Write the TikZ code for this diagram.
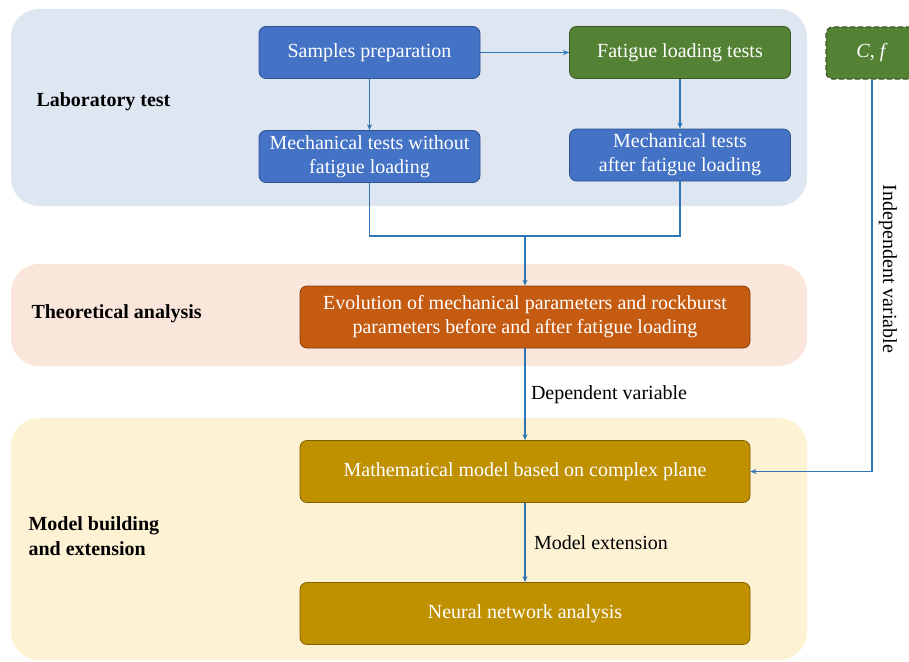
\documentclass[tikz,border=0pt]{standalone}
\usepackage{fontspec}
\setmainfont{Liberation Serif}
\usetikzlibrary{positioning,arrows.meta}
\definecolor{labbg}{HTML}{DEE6F1}
\definecolor{theobg}{HTML}{FBE6DC}
\definecolor{modbg}{HTML}{FEF2D5}
\definecolor{bluebox}{HTML}{4472C4}
\definecolor{blueline}{HTML}{2F528F}
\definecolor{greenbox}{HTML}{548235}
\definecolor{greenline}{HTML}{385723}
\definecolor{orangebox}{HTML}{C55A11}
\definecolor{orangeline}{HTML}{843C0C}
\definecolor{goldbox}{HTML}{BF9000}
\definecolor{goldline}{HTML}{7F6000}
\definecolor{arrowblue}{HTML}{2E75B6}

\begin{document}
\begin{tikzpicture}[x=1pt, y=-1pt, font=\fontsize{20}{24}\selectfont,
    >={Stealth[length=6pt,width=5pt]},
    box/.style = {draw, rounded corners=7pt, text=white, align=center, line width=0.8pt, inner sep=2pt},
    bluenode/.style = {box, fill=bluebox, draw=blueline, minimum width=221pt, minimum height=52pt},
    greennode/.style = {box, fill=greenbox, draw=greenline, minimum width=221pt, minimum height=52pt},
    widenode/.style = {box, minimum width=450pt, minimum height=62pt},
    flow/.style = {arrowblue, line width=1.4pt},
    area/.style = {rounded corners=28pt},
    tag/.style = {anchor=west, align=left, font=\fontsize{20}{25}\selectfont\bfseries}]
      \useasboundingbox (0,0) rectangle (909,661);
      \clip (0,0) rectangle (909,661);
      % stage backgrounds
      \fill[labbg, area] (11,9) rectangle (807,206);
      \fill[theobg, area] (11,264) rectangle (807,366);
      \fill[modbg, area] (11,418) rectangle (807,660);
      \node[tag] (lab) at (33,102) {Laboratory test};
      \node[tag] (theo) at (28,314) {Theoretical analysis};
      \node[tag] (model) at (25,536) {Model building\\and extension};
      % boxes
      \node[bluenode] (samples) at (369.5,52.5) {Samples preparation};
      \node[greennode] (fatigue) at (680,52.5) {Fatigue loading tests};
      \node[bluenode] (without) at (369.5,156.5) {Mechanical tests without\\fatigue loading};
      \node[bluenode] (after) at (680,155) {Mechanical tests\\after fatigue loading};
      \node[widenode, fill=orangebox, draw=orangeline] (evolution) at (525,317) {Evolution of mechanical parameters and rockburst\\parameters before and after fatigue loading};
      \node[widenode, fill=goldbox, draw=goldline] (math) at (525,471.5) {Mathematical model based on complex plane};
      \node[widenode, fill=goldbox, draw=goldline] (neural) at (525,613.5) {Neural network analysis};
      \node[greennode, dash pattern=on 5pt off 3pt, minimum width=92pt, line width=1.4pt] (cf) at (872,53) {\textit{C}, \textit{f}};
      \coordinate (join) at (525,236);
      % connectors
      \draw[flow, ->] (samples) -- (fatigue);
      \draw[flow, ->] (samples) -- (without);
      \draw[flow, ->] (fatigue) -- (after);
      \draw[flow] (without) |- (join);
      \draw[flow] (after) |- (join);
      \draw[flow, ->] (join) -- (evolution);
      \draw[flow, ->] (evolution) -- node[right=2pt, text=black] {Dependent variable} (math);
      \draw[flow, ->] (math) -- node[right=5pt, text=black] {Model extension} (neural);
      \draw[flow, ->] (cf) |- (math);
      \node[rotate=-90] (indep) at (888,269) {Independent variable};
    \end{tikzpicture}
\end{document}
